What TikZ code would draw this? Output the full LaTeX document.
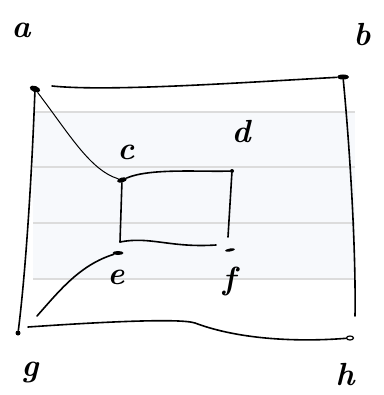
\documentclass[tikz,border=0pt]{standalone}
\usepackage{fontspec}
\usepackage{tikz}
\usetikzlibrary{shapes.geometric}
\definecolor{bandfill}{HTML}{F7F9FC}
\definecolor{stripe}{HTML}{DCDCDC}
\tikzset{
  ink/.style={line width=1.6pt, black, line cap=round},
  dot/.style={circle, fill=black, inner sep=0pt, minimum size=5pt},
  lbl/.style={font=\fontsize{32}{32}\selectfont\bfseries\itshape, inner sep=0pt},
  stripeline/.style={stripe, line width=1.6pt}
}
\begin{document}
\begin{tikzpicture}[x=1pt,y=-1pt]
\useasboundingbox (0,0) rectangle (383,395);
\fill[bandfill] (33,112) rectangle (355,279);
\foreach \yy in {112,167,223,279} \draw[stripeline] (33,\yy) -- (355,\yy);
% nodes
\node[dot, ellipse, minimum width=11pt, minimum height=6pt, rotate=-20] (a) at (35,89) {};
\node[dot, ellipse, minimum width=12pt, minimum height=5pt] (b) at (343,77) {};
\node[dot, ellipse, minimum width=10pt, minimum height=5pt, rotate=15] (c) at (122,180) {};
\node[dot, minimum size=4pt] (d) at (232,171) {};
\node[dot, ellipse, minimum width=11pt, minimum height=4pt] (e) at (118,253) {};
\node[dot, ellipse, minimum width=10pt, minimum height=3pt, rotate=10] (f) at (230,250) {};
\node[dot, minimum size=5pt] (g) at (18,333) {};
\node[dot, ellipse, minimum width=7pt, minimum height=4pt, fill=white, draw=black, line width=1.2pt] (h) at (350,338) {};
% labels
\node[lbl] (la) at (21,30) {a};
\node[lbl] (lb) at (362,35) {b};
\node[lbl] (lc) at (126,152) {c};
\node[lbl] (ld) at (241,132) {d};
\node[lbl] (le) at (116,277) {e};
\node[lbl] (lf) at (229,281) {f};
\node[lbl] (lg) at (30,372) {g};
\node[lbl] (lh) at (345,375) {h};
% free ends
\coordinate (bh) at (355,316);
\coordinate (eg) at (37,316);
\coordinate (ef) at (216,245);
% connectors
\draw[ink] (52,86) .. controls (110,92) and (250,82) .. (b);
\draw[ink] (a) .. controls (32,170) and (26,270) .. (g);
\draw[ink] (b) .. controls (350,150) and (356,250) .. (bh);
\draw[ink, line width=1pt] (a) .. controls (70,135) and (90,170) .. (c);
\draw[ink] (c) .. controls (150,168) and (200,172) .. (d);
\draw[ink] (c) -- (120,242);
\draw[ink] (d) -- (228,237);
\draw[ink] (120,242) .. controls (150,236) and (170,248) .. (ef);
\draw[ink] (e) .. controls (80,265) and (60,290) .. (eg);
\draw[ink] (28,327) .. controls (100,322) and (180,318) .. (195,323) .. controls (240,340) and (300,342) .. (h);
\end{tikzpicture}
\end{document}
